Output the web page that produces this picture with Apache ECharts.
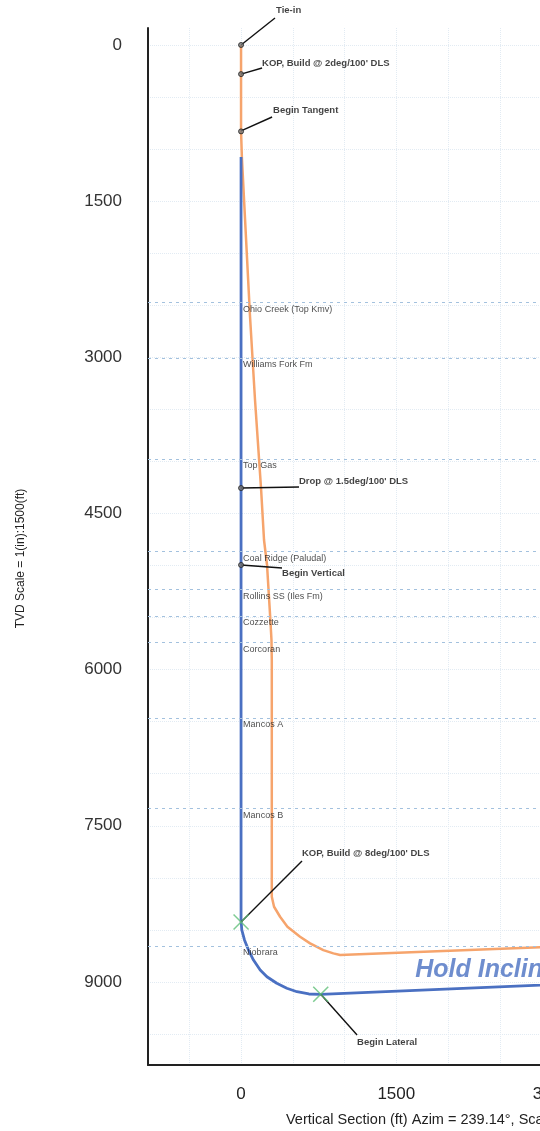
<!DOCTYPE html>
<html><head><meta charset="utf-8">
<script src="https://cdn.jsdelivr.net/npm/echarts@6/dist/echarts.min.js"></script>
<style>html,body{margin:0;padding:0;background:#fff;overflow:hidden;width:540px;height:1131px}#c{width:940px;height:1131px}</style>
</head><body><div id="c"></div>
<script>
// ---- data (ft) ----
const yTickLabels = [0, 1500, 3000, 4500, 6000, 7500, 9000];
const xTickLabels = [0, 1500, 3000, 4500, 6000];
const gridSteps = [-500,0,500,1000,1500,2000,2500,3000,3500,4000,4500,5000,5500,6000,6500,7000,7500,8000,8500,9000,9500];

// orange well path [vertical section, TVD]
const orangePath = [[0,0],[0,280],[0,830],[8,1080],[87,2613],[135,3410],[193,4256],[222,4755],[251,4995],[282,5500],[294,5716],[297,5908],[297,8181],[319,8278],[377,8374],[448,8470],[570,8566],[667,8630],[795,8694],[892,8726],[957,8742],[2889,8668],[3000,8664]];
// blue well plan
const bluePath = [[0,1076],[0,8405],[7,8501],[33,8597],[72,8694],[120,8790],[185,8886],[250,8950],[345,9013],[442,9061],[540,9094],[655,9116],[770,9119],[2889,9030],[3000,9025]];

const formationNames = ['Ohio Creek (Top Kmv)','Williams Fork Fm','Top Gas','Coal Ridge (Paludal)','Rollins SS (Iles Fm)','Cozzette','Corcoran','Mancos A','Mancos B','Niobrara'];
const formationDepths = [2470, 3005, 3975, 4862, 5226, 5485, 5735, 6465, 7330, 8655];

const annotationNames = ['Tie-in','KOP, Build @ 2deg/100\' DLS','Begin Tangent','Drop @ 1.5deg/100\' DLS','Begin Vertical','KOP, Build @ 8deg/100\' DLS','Begin Lateral'];
const annotationPoints = [[0,0],[0,280],[0,826],[0,4256],[0,4995],[0,8425],[770,9119]];
const annotationLineEnds = [[328,-259],[203,221],[300,692],[560,4246],[396,5024],[589,7839],[1121,9510]];
const annotationLabelAnchors = [[338,-336],[203,173],[309,624],[560,4188],[396,5072],[589,7762],[1121,9577]];
const circleMarkers = [[0,0],[0,280],[0,830],[0,4256],[0,4995]];
const crossMarkers = [[0,8425],[770,9119]];

const holdText = 'Hold Inclination';
const holdAnchor = [1683, 8890];

const yAxisTitle = 'TVD Scale = 1(in):1500(ft)';
const xAxisTitle = 'Vertical Section (ft) Azim = 239.14°, Scale = 1(in):1500(ft) Origin = 0 N/-S, 0 E/-W';

// ---- chart ----
const FONT = 'Liberation Sans, Arial, sans-serif';
const BLUE = '#4a70c2';
const ORANGE = '#f6a46c';
const chart = echarts.init(document.getElementById('c'), null, {renderer: 'canvas'});

const gridLine = {show: true, lineStyle: {color: '#e2ebf3', type: 'dotted', width: 1}};

chart.setOption({
  animation: false,
  backgroundColor: '#fff',
  title: {text: xAxisTitle, left: 281, top: 1107, textStyle: {fontFamily: FONT, fontSize: 14.5, fontWeight: 'normal', color: '#222'}},
  grid: {left: 148, top: 28, bottom: 66, right: 0, outerBoundsMode: 'none'},
  xAxis: {
    type: 'value', min: -899, max: 6753,
    axisLine: {show: true, onZero: false, lineStyle: {color: '#222', width: 2}},
    axisTick: {show: false, customValues: gridSteps.concat([5500,6000,6500])},
    axisLabel: {customValues: xTickLabels, margin: 21, fontSize: 17, fontFamily: FONT, color: '#222', formatter: v => String(v)},
    splitLine: gridLine
  },
  yAxis: {
    type: 'value', inverse: true, min: -163, max: 9798,
    name: yAxisTitle, nameLocation: 'middle', nameGap: 121,
    nameTextStyle: {fontFamily: FONT, fontSize: 12, color: '#222', padding: [0, 24, 0, 0]},
    axisLine: {show: true, onZero: false, lineStyle: {color: '#222', width: 2}},
    axisTick: {show: false, customValues: gridSteps.filter(v => v >= 0)},
    axisLabel: {customValues: yTickLabels, margin: 26, fontSize: 17, fontFamily: FONT, color: '#333', formatter: v => String(v)},
    splitLine: gridLine
  },
  series: [
    {
      type: 'line', name: 'formations', data: [], silent: true,
      markLine: {
        silent: true, symbol: 'none', animation: false,
        label: {show: false},
        lineStyle: {color: '#a3c1de', type: [3, 4], width: 1},
        data: formationDepths.map(d => ({yAxis: d}))
      }
    },
    {
      type: 'line', name: 'orange', data: orangePath, showSymbol: false, smooth: false,
      lineStyle: {color: ORANGE, width: 2.5}, z: 3
    },
    {
      type: 'line', name: 'blue', data: bluePath, showSymbol: false, smooth: false,
      lineStyle: {color: BLUE, width: 2.8}, z: 4
    },
    {
      type: 'scatter', name: 'formationLabels', clip: false, symbolSize: 0, z: 6,
      data: formationDepths.map((d, i) => ({value: [20, d], name: formationNames[i]})),
      label: {show: true, position: 'right', distance: 0, offset: [0, 7], formatter: p => p.name,
        fontFamily: FONT, fontSize: 9, color: '#222'}
    },
    {
      type: 'lines', coordinateSystem: 'cartesian2d', clip: false, z: 7,
      lineStyle: {color: '#111', width: 1.4, opacity: 1},
      data: annotationPoints.map((p, i) => ({coords: [p, annotationLineEnds[i]]}))
    },
    {
      type: 'scatter', name: 'circles', clip: false, symbol: 'circle', symbolSize: 5, z: 8,
      itemStyle: {color: '#777', borderColor: '#222', borderWidth: 1},
      data: circleMarkers
    },
    {
      type: 'scatter', name: 'crosses', clip: false, z: 8,
      symbol: 'path://M0,0L10,10M10,0L0,10', symbolSize: 15,
      itemStyle: {color: 'rgba(0,0,0,0)', borderColor: '#5fbf78', borderWidth: 1.5},
      data: crossMarkers
    },
    {
      type: 'scatter', name: 'annotationLabels', clip: false, symbolSize: 0, z: 9,
      data: annotationLabelAnchors.map((p, i) => ({value: p, name: annotationNames[i]})),
      label: {show: true, position: 'right', distance: 0, formatter: p => p.name,
        fontFamily: FONT, fontSize: 9.5, fontWeight: 'bold', color: '#111'}
    },
    {
      type: 'scatter', name: 'hold', clip: false, symbolSize: 0, z: 9,
      data: [{value: holdAnchor, name: holdText}],
      label: {show: true, position: 'right', distance: 0, formatter: p => p.name,
        fontFamily: FONT, fontSize: 25, fontWeight: 'bold', fontStyle: 'italic', color: BLUE}
    }
  ]
});
</script></body></html>
